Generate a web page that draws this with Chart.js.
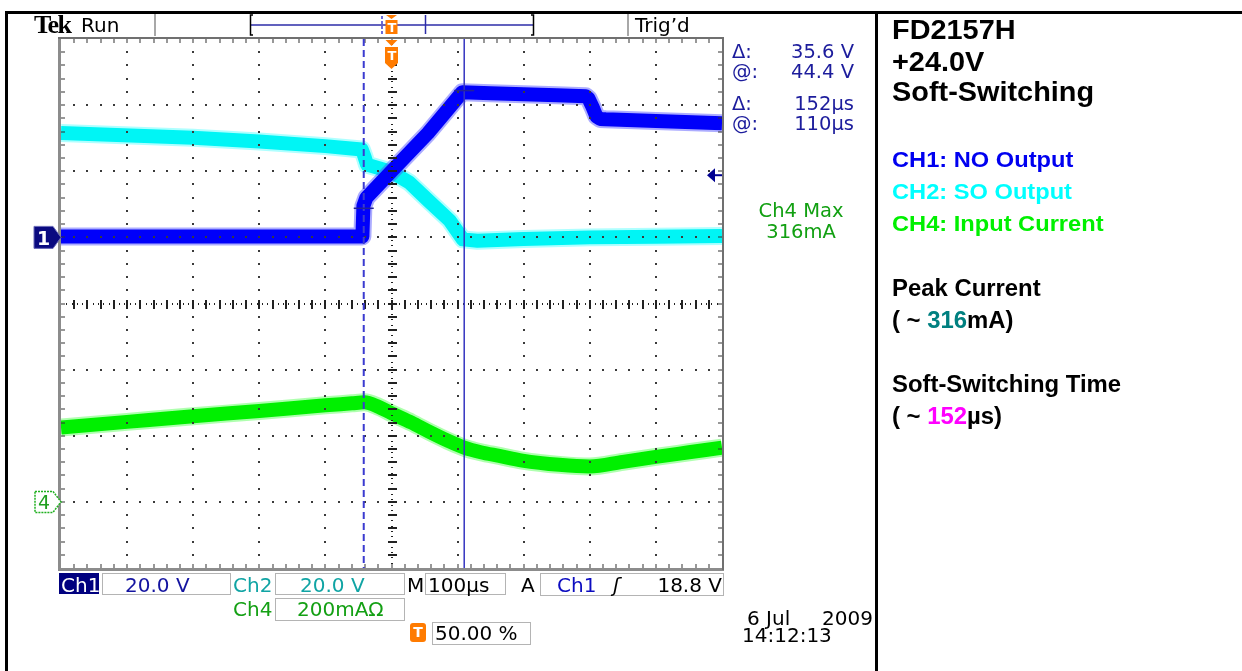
<!DOCTYPE html>
<html><head><meta charset="utf-8">
<script src="https://cdn.jsdelivr.net/npm/chart.js@4.4.0/dist/chart.umd.min.js"></script>
<style>
html,body{margin:0;padding:0;background:#fff;width:1242px;height:671px;overflow:hidden;position:relative;}
#c{position:absolute;left:0;top:0;}
.t{position:absolute;white-space:pre;font-family:"DejaVu Sans",sans-serif;font-size:20px;line-height:20px;color:#000;}
.ro{position:absolute;white-space:pre;font-family:"DejaVu Sans",sans-serif;font-size:19.5px;line-height:19px;color:#1c1c9c;}
.r{position:absolute;left:892px;white-space:pre;font-family:"Liberation Sans",Arial,sans-serif;font-weight:bold;color:#000;transform-origin:0 50%;}
.box{position:absolute;border:1px solid #b4b4b4;background:#fff;box-sizing:border-box;}
.ln{position:absolute;background:#000;}
.tm{position:absolute;color:#fff;font-family:"DejaVu Sans",sans-serif;font-weight:bold;font-size:13px;line-height:13px;text-align:center;width:12px;}
</style></head><body>
<canvas id="c" width="1242" height="671"></canvas>

<!-- page frame -->
<div class="ln" style="left:5px;top:11px;width:1237px;height:3px;"></div>
<div class="ln" style="left:5px;top:11px;width:3px;height:660px;"></div>
<div class="ln" style="left:875px;top:11px;width:3px;height:660px;"></div>

<!-- top status -->
<div class="t" style="left:34px;top:12px;font-family:'Liberation Serif',serif;font-weight:bold;font-size:26px;line-height:26px;letter-spacing:-1.5px;">Tek</div>
<div class="t" style="left:81px;top:15px;">Run</div>
<div class="t" style="left:635px;top:15px;">Trig’d</div>
<div class="tm" style="left:386px;top:21px;">T</div>
<div class="tm" style="left:386px;top:49px;">T</div>

<!-- readouts -->
<div class="ro" style="left:732px;top:42px;">Δ:</div>
<div class="ro" style="right:388px;top:42px;">35.6 V</div>
<div class="ro" style="left:732px;top:62px;">@:</div>
<div class="ro" style="right:388px;top:62px;">44.4 V</div>
<div class="ro" style="left:732px;top:94px;">Δ:</div>
<div class="ro" style="right:388px;top:94px;">152µs</div>
<div class="ro" style="left:732px;top:114px;">@:</div>
<div class="ro" style="right:388px;top:114px;">110µs</div>
<div class="ro" style="left:741px;width:120px;text-align:center;top:201px;color:#12a012;">Ch4 Max</div>
<div class="ro" style="left:741px;width:120px;text-align:center;top:222px;color:#12a012;">316mA</div>

<!-- channel marker labels -->
<div class="t" style="left:37px;top:229px;color:#fff;font-weight:bold;font-size:19px;line-height:19px;">1</div>
<div class="t" style="left:38px;top:493px;color:#20a020;font-size:19px;line-height:18px;">4</div>

<!-- bottom boxes -->
<div class="box" style="left:102px;top:573px;width:129px;height:22px;"></div>
<div class="box" style="left:275px;top:573px;width:130px;height:22px;"></div>
<div class="box" style="left:425px;top:573px;width:81px;height:22px;"></div>
<div class="box" style="left:540px;top:573px;width:184px;height:23px;"></div>
<div class="box" style="left:275px;top:598px;width:130px;height:23px;"></div>
<div class="box" style="left:432px;top:622px;width:99px;height:23px;"></div>
<div style="position:absolute;left:59px;top:573px;width:40px;height:21px;background:#00007f;"></div>
<div style="position:absolute;left:410px;top:623px;width:16px;height:19px;background:#ff7b00;border-radius:3px;"></div>

<div class="t" style="left:61px;top:575px;color:#fff;">Ch1</div>
<div class="t" style="left:125px;top:575px;color:#1414a0;">20.0 V</div>
<div class="t" style="left:233px;top:575px;color:#10a4a4;">Ch2</div>
<div class="t" style="left:300px;top:575px;color:#10a4a4;">20.0 V</div>
<div class="t" style="left:407px;top:575px;">M</div>
<div class="t" style="left:428px;top:575px;">100µs</div>
<div class="t" style="left:521px;top:575px;">A</div>
<div class="t" style="left:557px;top:575px;color:#0c0cc0;">Ch1</div>
<div class="t" style="left:613px;top:575px;font-style:italic;">ʃ</div>
<div class="t" style="right:520px;top:575px;">18.8 V</div>
<div class="t" style="left:233px;top:599px;color:#14a014;">Ch4</div>
<div class="t" style="left:297px;top:599px;color:#14a014;">200mAΩ</div>
<div class="tm" style="left:412px;top:626px;font-size:14px;">T</div>
<div class="t" style="left:435px;top:623px;">50.00 %</div>
<div class="t" style="left:747px;top:608px;">6 Jul</div>
<div class="t" style="left:822px;top:608px;">2009</div>
<div class="t" style="left:742px;top:625px;">14:12:13</div>

<!-- right panel -->
<div class="r" style="top:16px;font-size:27.5px;line-height:28px;transform:scaleX(1.05);">FD2157H</div>
<div class="r" style="top:48px;font-size:27.5px;line-height:28px;transform:scaleX(1.05);">+24.0V</div>
<div class="r" style="top:78px;font-size:27.5px;line-height:28px;transform:scaleX(1.05);">Soft-Switching</div>
<div class="r" style="top:150px;font-size:21.5px;line-height:21px;color:#0000f0;transform:scaleX(1.1);">CH1: NO Output</div>
<div class="r" style="top:182px;font-size:21.5px;line-height:21px;color:#00ffff;transform:scaleX(1.1);">CH2: SO Output</div>
<div class="r" style="top:214px;font-size:21.5px;line-height:21px;color:#00f000;transform:scaleX(1.1);">CH4: Input Current</div>
<div class="r" style="top:277px;font-size:23.3px;line-height:23px;transform:scaleX(1.025);">Peak Current</div>
<div class="r" style="top:309px;font-size:23.3px;line-height:23px;transform:scaleX(1.025);">( ~ <span style="color:#008080">316</span>mA)</div>
<div class="r" style="top:373px;font-size:23.3px;line-height:23px;transform:scaleX(1.025);">Soft-Switching Time</div>
<div class="r" style="top:405px;font-size:23.3px;line-height:23px;transform:scaleX(1.025);">( ~ <span style="color:#ff00ff">152</span>µs)</div>

<script>
// ---- scope settings ----
const timePerDivUs = 100;            // M 100µs
const xRangeUs = [-500, 500];        // 10 divisions, trigger at 50%
const yRangeDiv = [-4, 4];           // 8 divisions
const ch1VoltsPerDiv = 20, ch2VoltsPerDiv = 20, ch4mAPerDiv = 200;
const ch1GroundDiv = 1, ch2GroundDiv = 1, ch4GroundDiv = -3;
const triggerLevelV = 18.8;
const cursorTimesUs = [-42, 110];
const cursorVolts = [8.8, 44.4];

// ---- CH1: NO Output (V) ----
const ch1Time  = [-500, -300, -100, -44, -42.5, -38, 0, 55, 107, 150, 200, 250, 294, 298, 304, 310, 316, 324, 400, 500];
const ch1Volts = [0.3, 0.3, 0.3, 0.3, 9.5, 12.0, 20.0, 31.5, 43.9, 43.6, 43.3, 43.0, 42.7, 42.0, 39.5, 36.6, 35.8, 35.7, 35.2, 34.5];

// ---- CH2: SO Output (V) ----
const ch2Time  = [-500, -300, -200, -100, -45, -41, -37, 0, 27, 57, 88, 108, 130, 200, 300, 400, 500];
const ch2Volts = [31.6, 30.1, 29.0, 27.6, 26.6, 24.5, 22.0, 19.8, 16.6, 10.9, 5.1, -0.6, -1.0, -0.5, 0.0, 0.2, 0.4];

// ---- CH4: Input Current (mA) ----
const ch4Time = [-500, -400, -300, -200, -100, -60, -41, -20, 0, 30, 57, 85, 110, 135, 163, 198, 254, 300, 350, 400, 450, 500];
const ch4mA   = [225, 242, 259, 275, 292, 298, 301, 288, 268, 240, 212, 185, 164, 150, 139, 125, 112, 107, 121, 136, 150, 164];

function toDiv(times, vals, perDiv, gnd) {
  return times.map((t, i) => ({x: t, y: gnd + vals[i] / perDiv}));
}

const scopePlugin = {
  id: 'scope',
  afterDatasetsDraw(chart) {
    const c = chart.ctx, xs = chart.scales.x, ys = chart.scales.y;
    const X = v => xs.getPixelForValue(v), Y = v => ys.getPixelForValue(v);
    const x0 = xRangeUs[0], nx = (xRangeUs[1] - xRangeUs[0]) / timePerDivUs;
    const ny = yRangeDiv[1] - yRangeDiv[0];
    const L = X(xRangeUs[0]), R = X(xRangeUs[1]), T = Y(yRangeDiv[1]), B = Y(yRangeDiv[0]);
    c.save();
    // dotted graticule
    c.fillStyle = '#3a3a3a';
    for (let i = 1; i < nx; i++) {
      if (i === nx / 2) continue;
      const x = Math.round(X(x0 + timePerDivUs * i));
      for (let k = 1; k < ny * 5; k++) { const y = Math.round(Y(yRangeDiv[0] + 0.2 * k)); c.fillRect(x - 1, y - 1, 2, 2); }
    }
    for (let j = 1; j < ny; j++) {
      if (j === ny / 2) continue;
      const y = Math.round(Y(yRangeDiv[0] + j));
      for (let k = 1; k < nx * 5; k++) { const x = Math.round(X(x0 + timePerDivUs * 0.2 * k)); c.fillRect(x - 1, y - 1, 2, 2); }
    }
    // center cross lines
    const cx = Math.round(X(0)), cy = Math.round(Y(0));
    c.fillStyle = '#222';
    for (let k = 1; k < ny * 25; k++) { const y = Math.round(Y(yRangeDiv[0] + 0.04 * k)); if (k % 2 === 0) c.fillRect(cx - 1, y, 2, 1); }
    for (let k = 1; k < nx * 25; k++) { const x = Math.round(X(x0 + timePerDivUs * 0.04 * k)); if (k % 2 === 0) c.fillRect(x, cy - 1, 1, 2); }
    for (let k = 1; k < ny * 5; k++) { const y = Math.round(Y(yRangeDiv[0] + 0.2 * k)); c.fillRect(cx - 4, y - 1, 9, 2); }
    for (let k = 1; k < nx * 5; k++) { const x = Math.round(X(x0 + timePerDivUs * 0.2 * k)); c.fillRect(x - 1, cy - 4, 2, 9); }
    // frame
    c.fillStyle = '#8c8c8c';
    c.fillRect(L - 3, T - 2, 3, B - T + 5);
    c.fillRect(L - 3, B, R - L + 5, 3);
    c.fillStyle = '#707070';
    c.fillRect(L - 3, T - 2, R - L + 5, 2);
    c.fillRect(R, T - 2, 2, B - T + 4);
    c.fillStyle = '#333';
    for (let k = 1; k < nx * 5; k++) {
      const x = Math.round(X(x0 + timePerDivUs * 0.2 * k));
      c.fillRect(x - 0.5, T, 1, 4); c.fillRect(x - 0.5, B - 4, 1, 4);
    }
    for (let k = 1; k < ny * 5; k++) {
      const y = Math.round(Y(yRangeDiv[0] + 0.2 * k));
      c.fillRect(L, y - 0.5, 4, 1); c.fillRect(R - 4, y - 0.5, 4, 1);
    }
    // cursors
    c.strokeStyle = '#3b3bd0'; c.lineWidth = 2; c.setLineDash([7, 4]);
    c.beginPath(); c.moveTo(X(cursorTimesUs[0]), T); c.lineTo(X(cursorTimesUs[0]), B); c.stroke();
    c.setLineDash([]); c.strokeStyle = '#3434c0'; c.lineWidth = 1.5;
    c.beginPath(); c.moveTo(X(cursorTimesUs[1]), T); c.lineTo(X(cursorTimesUs[1]), B); c.stroke();
    c.strokeStyle = '#22229a'; c.lineWidth = 1.5;
    for (let i = 0; i < 2; i++) {
      const px = X(cursorTimesUs[i]), py = Y(ch1GroundDiv + cursorVolts[i] / ch1VoltsPerDiv);
      c.beginPath(); c.moveTo(px - 10, py); c.lineTo(px + 10, py); c.stroke();
    }
    // trigger level arrow (right)
    const ty = Y(ch1GroundDiv + triggerLevelV / ch1VoltsPerDiv);
    c.fillStyle = '#000090'; c.strokeStyle = '#000090'; c.lineWidth = 2;
    c.beginPath(); c.moveTo(R - 15, ty); c.lineTo(R - 7, ty - 7); c.lineTo(R - 7, ty + 7); c.closePath(); c.fill();
    c.beginPath(); c.moveTo(R - 8, ty); c.lineTo(R, ty); c.stroke();
    // ch1 ground marker
    const g1 = Y(ch1GroundDiv);
    c.fillStyle = '#0a0a80'; c.strokeStyle = '#6a6ab8'; c.lineWidth = 1;
    c.beginPath(); c.moveTo(34, g1 - 11); c.lineTo(53, g1 - 11); c.lineTo(L, g1); c.lineTo(53, g1 + 11); c.lineTo(34, g1 + 11); c.closePath(); c.fill(); c.stroke();
    // ch4 ground marker
    const g4 = Y(ch4GroundDiv);
    c.fillStyle = '#fff'; c.strokeStyle = '#20b020'; c.lineWidth = 1.5; c.setLineDash([2, 1]);
    c.beginPath(); c.moveTo(35, g4 - 10.5); c.lineTo(53, g4 - 10.5); c.lineTo(L, g4); c.lineTo(53, g4 + 10.5); c.lineTo(35, g4 + 10.5); c.closePath(); c.fill(); c.stroke();
    c.setLineDash([]);
    // trigger position marker (plot top)
    const tx = X(0);
    c.fillStyle = '#ff7b00';
    c.beginPath(); c.moveTo(tx - 6, T + 1); c.lineTo(tx + 6, T + 1); c.lineTo(tx, T + 7); c.closePath(); c.fill();
    c.beginPath(); c.moveTo(tx - 6.5, T + 8); c.lineTo(tx + 6.5, T + 8); c.lineTo(tx + 6.5, T + 24); c.lineTo(tx, T + 30); c.lineTo(tx - 6.5, T + 24); c.closePath(); c.fill();
    // record bar (top status)
    c.fillStyle = '#a8a8a8';
    c.fillRect(154, 14, 2, 22); c.fillRect(627, 14, 2, 22);
    c.strokeStyle = '#2c2ca8'; c.lineWidth = 1.5;
    c.beginPath(); c.moveTo(251, 25); c.lineTo(533, 25); c.stroke();
    c.beginPath(); c.moveTo(425.5, 15); c.lineTo(425.5, 34); c.stroke();
    c.setLineDash([3, 2]); c.strokeStyle = '#3b3bd0';
    c.beginPath(); c.moveTo(382, 16); c.lineTo(382, 34); c.stroke(); c.setLineDash([]);
    c.strokeStyle = '#000'; c.lineWidth = 1.5;
    c.beginPath(); c.moveTo(253, 15); c.lineTo(250.5, 15); c.lineTo(250.5, 35); c.lineTo(253, 35); c.stroke();
    c.beginPath(); c.moveTo(531, 15); c.lineTo(533.5, 15); c.lineTo(533.5, 35); c.lineTo(531, 35); c.stroke();
    c.fillStyle = '#ff7b00';
    c.beginPath(); c.moveTo(tx - 5.5, 15); c.lineTo(tx + 5.5, 15); c.lineTo(tx, 19); c.closePath(); c.fill();
    c.fillRect(tx - 6, 20, 12, 14);
    c.restore();
  }
};

const ch1Pts = toDiv(ch1Time, ch1Volts, ch1VoltsPerDiv, ch1GroundDiv);
const ch2Pts = toDiv(ch2Time, ch2Volts, ch2VoltsPerDiv, ch2GroundDiv);
const ch4Pts = toDiv(ch4Time, ch4mA, ch4mAPerDiv, ch4GroundDiv);
const common = {pointRadius: 0, borderJoinStyle: 'round', tension: 0};

new Chart(document.getElementById('c').getContext('2d'), {
  type: 'line',
  data: {
    datasets: [
      Object.assign({label: 'CH1', data: ch1Pts, borderColor: '#0000fa', borderWidth: 14, order: 1}, common),
      Object.assign({label: 'CH1 edge', data: ch1Pts, borderColor: 'rgba(70,70,255,0.45)', borderWidth: 18, order: 2}, common),
      Object.assign({label: 'CH2', data: ch2Pts, borderColor: '#00f5f5', borderWidth: 14, order: 3}, common),
      Object.assign({label: 'CH2 edge', data: ch2Pts, borderColor: 'rgba(110,255,255,0.55)', borderWidth: 18, order: 4}, common),
      Object.assign({label: 'CH4', data: ch4Pts, borderColor: '#00f000', borderWidth: 14, order: 5, cubicInterpolationMode: 'monotone'}, common),
      Object.assign({label: 'CH4 edge', data: ch4Pts, borderColor: 'rgba(110,255,110,0.55)', borderWidth: 18, order: 6, cubicInterpolationMode: 'monotone'}, common)
    ]
  },
  options: {
    responsive: false, animation: false, devicePixelRatio: 1, events: [],
    layout: {padding: {left: 61, top: 39, right: 520, bottom: 103}},
    plugins: {legend: {display: false}, tooltip: {enabled: false}},
    scales: {
      x: {type: 'linear', min: xRangeUs[0], max: xRangeUs[1], display: false},
      y: {type: 'linear', min: yRangeDiv[0], max: yRangeDiv[1], display: false}
    }
  },
  plugins: [scopePlugin]
});
</script>
</body></html>
